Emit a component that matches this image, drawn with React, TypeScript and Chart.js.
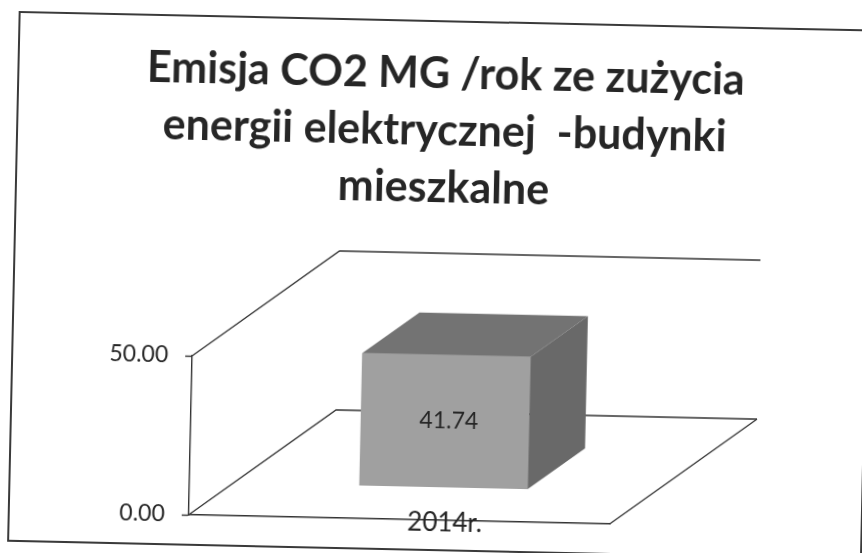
import React, { useEffect, useRef } from "react";
import { Chart, registerables } from "chart.js";

Chart.register(...registerables);

// ---- data ----
const categories: string[] = ["2014r."];
const emissionValues: number[] = [41.74];
const yTickValues: number[] = [0, 50];
const titleLines: string[] = [
  "Emisja CO2 MG /rok ze zużycia",
  "energii elektrycznej  -budynki",
  "mieszkalne",
];

// ---- style constants ----
const DEPTH_X = 145;
const DEPTH_Y = -108;
const BAR_FRONT = 0.3; // depth fraction of bar's front face
const BAR_DEPTH = 0.39; // depth fraction of bar thickness
const LINE_COLOR = "#333333";
const FRONT_COLOR = "#a0a0a0";
const TOP_COLOR = "#737373";
const SIDE_COLOR = "#696969";
const TEXT_COLOR = "#262626";
const FONT = "Lato";

const threeD = {
  id: "threeD",
  beforeDatasetsDraw(chart: any) {
    const { ctx, chartArea, scales } = chart;
    const y = scales.y;
    ctx.save();
    ctx.strokeStyle = LINE_COLOR;
    ctx.lineWidth = 1.3;
    y.ticks.forEach((t: any) => {
      const py = y.getPixelForValue(t.value);
      ctx.beginPath();
      ctx.moveTo(chartArea.left, py);
      ctx.lineTo(chartArea.left + DEPTH_X, py + DEPTH_Y);
      ctx.lineTo(chartArea.right + DEPTH_X, py + DEPTH_Y);
      ctx.stroke();
    });
    const p0 = y.getPixelForValue(0);
    ctx.beginPath();
    ctx.moveTo(chartArea.right, p0);
    ctx.lineTo(chartArea.right + DEPTH_X, p0 + DEPTH_Y);
    ctx.stroke();
    ctx.restore();
    ctx.save();
    ctx.translate(DEPTH_X * BAR_FRONT, DEPTH_Y * BAR_FRONT);
  },
  afterDatasetsDraw(chart: any) {
    const { ctx } = chart;
    ctx.restore();
    const meta = chart.getDatasetMeta(0);
    const ds = chart.data.datasets[0];
    meta.data.forEach((bar: any, i: number) => {
      const { x, y, base, width } = bar.getProps(["x", "y", "base", "width"], true);
      const ox = DEPTH_X * BAR_FRONT;
      const oy = DEPTH_Y * BAR_FRONT;
      const l = x - width / 2 + ox;
      const r = x + width / 2 + ox;
      const t = y + oy;
      const b = base + oy;
      const bx = DEPTH_X * BAR_DEPTH;
      const by = DEPTH_Y * BAR_DEPTH;
      ctx.save();
      ctx.fillStyle = TOP_COLOR;
      ctx.beginPath();
      ctx.moveTo(l, t);
      ctx.lineTo(l + bx, t + by);
      ctx.lineTo(r + bx, t + by);
      ctx.lineTo(r, t);
      ctx.closePath();
      ctx.fill();
      ctx.fillStyle = SIDE_COLOR;
      ctx.beginPath();
      ctx.moveTo(r, t);
      ctx.lineTo(r + bx, t + by);
      ctx.lineTo(r + bx, b + by);
      ctx.lineTo(r, b);
      ctx.closePath();
      ctx.fill();
      ctx.fillStyle = TEXT_COLOR;
      ctx.font = `23px ${FONT}`;
      ctx.textAlign = "center";
      ctx.textBaseline = "middle";
      ctx.fillText(Number(ds.data[i]).toFixed(2), x + ox + 4, (t + b) / 2);
      ctx.restore();
    });
  },
  afterDraw(chart: any) {
    // category labels, placed on the floor's front edge under each bar
    const { ctx, chartArea, scales } = chart;
    const xs = scales.x;
    ctx.save();
    ctx.fillStyle = TEXT_COLOR;
    ctx.font = `26px ${FONT}`;
    ctx.textAlign = "center";
    ctx.textBaseline = "middle";
    xs.ticks.forEach((_t: any, i: number) => {
      const px = xs.getPixelForTick(i) + DEPTH_X * BAR_FRONT + 2;
      ctx.fillText(String(xs.getLabelForValue(i)), px, chartArea.bottom + 3);
    });
    ctx.restore();
  },
};

export default function App() {
  const ref = useRef<HTMLCanvasElement>(null);
  useEffect(() => {
    const chart = new Chart(ref.current as HTMLCanvasElement, {
      type: "bar",
      data: {
        labels: categories,
        datasets: [
          {
            data: emissionValues,
            backgroundColor: FRONT_COLOR,
            borderWidth: 0,
            categoryPercentage: 1,
            barPercentage: 0.4,
            clip: false as any,
          },
        ],
      },
      options: {
        responsive: false,
        devicePixelRatio: 1,
        animation: false,
        layout: { padding: { left: 21, right: 0, top: 0, bottom: 0 } },
        plugins: {
          legend: { display: false },
          tooltip: { enabled: false },
          title: {
            display: true,
            text: titleLines,
            color: TEXT_COLOR,
            font: { family: FONT, size: 43, weight: "bold", lineHeight: 57 / 43 },
            padding: { top: 46, bottom: 144 },
          },
        },
        scales: {
          x: {
            type: "category",
            grid: { drawOnChartArea: false, drawTicks: false },
            border: { color: LINE_COLOR, width: 1.4 },
            ticks: { display: false },
            afterFit: (s: any) => {
              s.height = 33;
            },
          },
          y: {
            type: "linear",
            min: 0,
            max: 50,
            grid: {
              drawOnChartArea: false,
              drawTicks: true,
              tickLength: 7,
              tickColor: LINE_COLOR,
              tickWidth: 1.4,
            },
            border: { color: LINE_COLOR, width: 1.4 },
            afterBuildTicks: (s: any) => {
              s.ticks = yTickValues.map((v) => ({ value: v }));
            },
            ticks: {
              color: TEXT_COLOR,
              font: { family: FONT, size: 23 },
              padding: 17,
              callback: (v: any) => Number(v).toFixed(2),
            },
            afterFit: (s: any) => {
              s.width = 173;
            },
          },
          yRight: {
            type: "linear",
            position: "right",
            display: true,
            grid: { display: false },
            border: { display: false },
            ticks: { display: false },
            afterFit: (s: any) => {
              s.width = 247;
            },
          },
        },
      },
      plugins: [threeD],
    });
    return () => chart.destroy();
  }, []);

  return (
    <div
      style={{
        position: "fixed",
        left: 0,
        top: 0,
        width: 862,
        height: 553,
        overflow: "hidden",
        background: "#fff",
      }}
    >
      <div
        style={{
          position: "absolute",
          left: 0,
          top: 0,
          width: 862,
          height: 553,
          transform: "rotate(1.25deg)",
          transformOrigin: "431px 276.5px",
        }}
      >
        <div
          style={{
            position: "absolute",
            left: 13,
            top: 20,
            width: 855,
            height: 531,
            border: "2px solid #3a3a3a",
            boxSizing: "border-box",
          }}
        />
        <canvas
          ref={ref}
          width={862}
          height={553}
          style={{ position: "absolute", left: 0, top: 0, width: 862, height: 553 }}
        />
      </div>
    </div>
  );
}
